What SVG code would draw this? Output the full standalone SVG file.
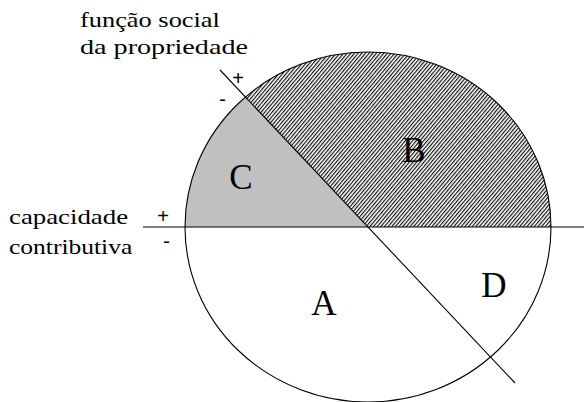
<svg xmlns="http://www.w3.org/2000/svg" width="584" height="402" viewBox="0 0 584 402">
<style>
.lbl{font-family:"Liberation Serif","Times New Roman",serif;font-size:22px;fill:#000}
.big{font-family:"Liberation Serif","Times New Roman",serif;font-size:35px;fill:#000;text-anchor:middle}
.sgn{font-family:"Liberation Sans",Arial,sans-serif;font-size:20px;fill:#000;text-anchor:middle}
.ln{stroke:#000;stroke-width:1.1;fill:none}
</style>
<defs>
<pattern id="hatch" width="2.8" height="10" patternUnits="userSpaceOnUse" patternTransform="rotate(40)">
<rect width="2.8" height="10" fill="#fff"/>
<line x1="0.6" y1="0" x2="0.6" y2="10" stroke="#000" stroke-width="1.1"/>
</pattern>
</defs>
<rect width="584" height="402" fill="#fff"/>
<g id="regionC"><path d="M185,227 A183,175 0 0 1 245.5,96.9 L368,227 Z" fill="#c0c0c0"/></g>
<g id="regionB"><path d="M245.5,96.9 A183,175 0 0 1 551,227 L368,227 Z" fill="url(#hatch)"/></g>
<g id="circle"><ellipse cx="368" cy="227" rx="183" ry="175" class="ln"/></g>
<g id="connectors">
<line x1="143" y1="227" x2="584" y2="227" class="ln"/>
<line x1="220" y1="70" x2="515" y2="383" class="ln"/>
</g>
<g id="axis-funcao">
<text class="lbl" transform="translate(80,27) scale(1.2,1)">função social</text>
<text class="lbl" transform="translate(80,54) scale(1.28,1)">da propriedade</text>
<text class="sgn" x="238" y="85">+</text>
<text class="sgn" x="222.5" y="106">-</text>
</g>
<g id="axis-capacidade">
<text class="lbl" transform="translate(9,223.5) scale(1.22,1)">capacidade</text>
<text class="lbl" transform="translate(9,253.5) scale(1.16,1)">contributiva</text>
<text class="sgn" x="163" y="223">+</text>
<text class="sgn" x="166.5" y="248">-</text>
</g>
<g id="labelA"><text class="big" x="324" y="315">A</text></g>
<g id="labelB"><text class="big" x="414" y="162">B</text></g>
<g id="labelC"><text class="big" x="241" y="189">C</text></g>
<g id="labelD"><text class="big" x="494" y="296.5">D</text></g>
</svg>
